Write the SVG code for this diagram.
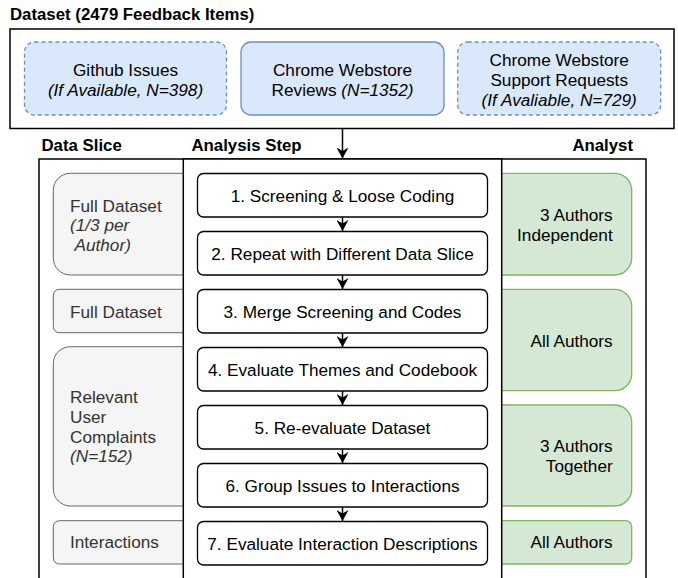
<svg xmlns="http://www.w3.org/2000/svg" width="678" height="578" viewBox="0 0 678 578">
<defs>
<marker id="arr" markerUnits="userSpaceOnUse" markerWidth="11" markerHeight="12" viewBox="0 0 11 12" refX="11" refY="6" orient="auto">
<path d="M0,0 L11,6 L0,12 L3.5,6 z" fill="#000"/>
</marker>
</defs>
<style>
text{font-family:"Liberation Sans",Arial,sans-serif;font-size:17.2px;fill:#000}
.h{font-weight:bold;font-size:16.8px}
.c{text-anchor:middle}
.r{text-anchor:end}
.i{font-style:italic}
.gt{fill:#333333}
.frame{fill:#fff;stroke:#000;stroke-width:1.5}
.blue{fill:#dae8fc;stroke:#6c8ebf;stroke-width:1.3}
.dash{stroke-dasharray:4 3}
.gray{fill:#f5f5f5;stroke:#666666;stroke-width:1}
.green{fill:#d5e8d4;stroke:#82b366;stroke-width:1.3}
.step{fill:#fff;stroke:#000;stroke-width:1.3}
.con{stroke:#000;stroke-width:1.5;fill:none}
</style>

<g id="dataset">
<text class="h" x="10" y="20">Dataset (2479 Feedback Items)</text>
<rect class="frame" x="10" y="29" width="664" height="99.5"/>
</g>
<g id="github">
<rect class="blue dash" x="24.5" y="42" width="202" height="73" rx="10"/>
<text class="c" x="125.5" y="76">Github Issues</text>
<text class="c i" x="125.5" y="96">(If Available, N=398)</text>
</g>
<g id="reviews">
<rect class="blue" x="241" y="42" width="203" height="73" rx="10"/>
<text class="c" x="342.5" y="76">Chrome Webstore</text>
<text class="c" x="342.5" y="96">Reviews <tspan class="i">(N=1352)</tspan></text>
</g>
<g id="support">
<rect class="blue dash" x="457.7" y="42" width="203" height="73" rx="10"/>
<text class="c" x="559.2" y="66">Chrome Webstore</text>
<text class="c" x="559.2" y="86">Support Requests</text>
<text class="c i" x="559.2" y="106">(If Avaliable, N=729)</text>
</g>

<g id="headers">
<text class="h" x="41.5" y="150.5">Data Slice</text>
<text class="h" x="191.5" y="150.5">Analysis Step</text>
<text class="h r" x="633" y="150.5">Analyst</text>
</g>

<g id="process-frame">
<rect class="frame" x="39" y="159" width="607" height="425"/>
</g>

<g id="slice-1">
<rect class="gray" x="53.3" y="173.3" width="160" height="101.7" rx="17"/>
<text class="gt" x="70" y="211.7">Full Dataset</text>
<text class="gt i" x="70" y="231.2">(1/3 per</text>
<text class="gt i" x="74.5" y="250.7">Author)</text>
</g>
<g id="slice-2">
<rect class="gray" x="53.3" y="289.3" width="160" height="43.4" rx="6"/>
<text class="gt" x="70" y="318">Full Dataset</text>
</g>
<g id="slice-3">
<rect class="gray" x="53.3" y="346.7" width="160" height="159.3" rx="17"/>
<text class="gt" x="70" y="403.3">Relevant</text>
<text class="gt" x="70" y="423">User</text>
<text class="gt" x="70" y="442.7">Complaints</text>
<text class="gt i" x="70" y="462.4">(N=152)</text>
</g>
<g id="slice-4">
<rect class="gray" x="53.3" y="520.7" width="160" height="43.3" rx="6"/>
<text class="gt" x="70" y="548.3">Interactions</text>
</g>

<g id="analyst-1">
<rect class="green" x="470" y="173.3" width="161.7" height="101.7" rx="17"/>
<text class="r" x="612.7" y="220.7">3 Authors</text>
<text class="r" x="612.7" y="240.7">Independent</text>
</g>
<g id="analyst-2">
<rect class="green" x="470" y="289.3" width="161.7" height="101.4" rx="17"/>
<text class="r" x="612.7" y="346.7">All Authors</text>
</g>
<g id="analyst-3">
<rect class="green" x="470" y="405" width="161.7" height="101" rx="17"/>
<text class="r" x="612.7" y="451.7">3 Authors</text>
<text class="r" x="612.7" y="471.7">Together</text>
</g>
<g id="analyst-4">
<rect class="green" x="470" y="520.7" width="161.7" height="43.3" rx="6"/>
<text class="r" x="612.7" y="548.3">All Authors</text>
</g>

<g id="step-column">
<rect class="frame" x="183.3" y="159" width="318.4" height="425"/>
</g>

<g id="step-1">
<rect class="step" x="197.5" y="173.5" width="290" height="43.5" rx="6"/>
<text class="c" x="342.5" y="201.7">1. Screening &amp; Loose Coding</text>
</g>
<g id="step-2">
<rect class="step" x="197.5" y="231.5" width="290" height="43.5" rx="6"/>
<text class="c" x="342.5" y="259.7">2. Repeat with Different Data Slice</text>
</g>
<g id="step-3">
<rect class="step" x="197.5" y="289.5" width="290" height="43.5" rx="6"/>
<text class="c" x="342.5" y="317.7">3. Merge Screening and Codes</text>
</g>
<g id="step-4">
<rect class="step" x="197.5" y="347.5" width="290" height="43.5" rx="6"/>
<text class="c" x="342.5" y="375.7">4. Evaluate Themes and Codebook</text>
</g>
<g id="step-5">
<rect class="step" x="197.5" y="405.5" width="290" height="43.5" rx="6"/>
<text class="c" x="342.5" y="433.7">5. Re-evaluate Dataset</text>
</g>
<g id="step-6">
<rect class="step" x="197.5" y="463.5" width="290" height="43.5" rx="6"/>
<text class="c" x="342.5" y="491.7">6. Group Issues to Interactions</text>
</g>
<g id="step-7">
<rect class="step" x="197.5" y="521.5" width="290" height="43.5" rx="6"/>
<text class="c" x="342.5" y="549.7">7. Evaluate Interaction Descriptions</text>
</g>

<g id="connectors">
<line class="con" x1="342.5" y1="128.5" x2="342.5" y2="158.5" marker-end="url(#arr)"/>
<line class="con" x1="342.5" y1="217" x2="342.5" y2="231" marker-end="url(#arr)"/>
<line class="con" x1="342.5" y1="275" x2="342.5" y2="289" marker-end="url(#arr)"/>
<line class="con" x1="342.5" y1="333" x2="342.5" y2="347" marker-end="url(#arr)"/>
<line class="con" x1="342.5" y1="391" x2="342.5" y2="405" marker-end="url(#arr)"/>
<line class="con" x1="342.5" y1="449" x2="342.5" y2="463" marker-end="url(#arr)"/>
<line class="con" x1="342.5" y1="507" x2="342.5" y2="521" marker-end="url(#arr)"/>
</g>
</svg>
